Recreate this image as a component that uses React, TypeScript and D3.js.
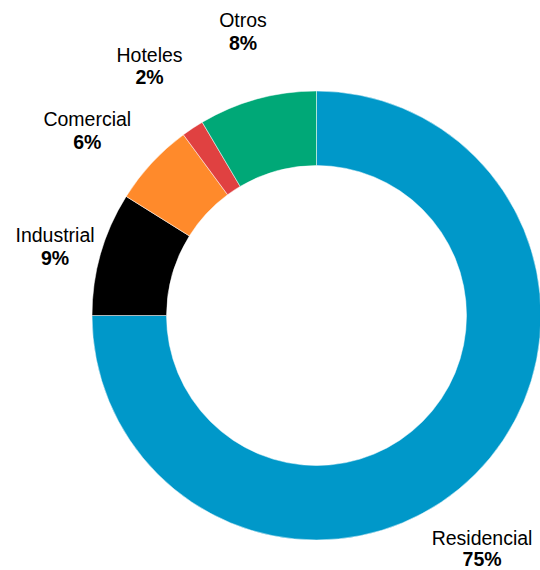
import React from "react";
import * as d3 from "d3";

const categories = ["Residencial", "Industrial", "Comercial", "Hoteles", "Otros"];
const values = [75.0, 8.9, 6.0, 1.6, 8.5];
const percentLabels = ["75%", "9%", "6%", "2%", "8%"];
const colors = ["#0098C9", "#000000", "#FF8A2B", "#E04141", "#00A877"];
// label nudges relative to centroid at label radius (layout only)
const labelNudge: [number, number][] = [
  [-39.5, 24.7],
  [17.3, 6.7],
  [-16.6, 8],
  [-7, -11.5],
  [3, -8.6],
];
const lineGap = [20.5, 23, 22.3, 21.7, 23.3];

const W = 540;
const H = 570;
const cx = 316.5;
const cy = 315.5;
const outerR = 224.5;
const innerR = 150;
const labelR = 290;

export default function App() {
  const pie = d3
    .pie<number>()
    .sort(null)
    .value((d) => d)
    .startAngle(0)
    .endAngle(2 * Math.PI);
  const arcs = pie(values);
  const arcGen = d3.arc<d3.PieArcDatum<number>>().innerRadius(innerR).outerRadius(outerR);
  const labelArc = d3.arc<d3.PieArcDatum<number>>().innerRadius(labelR).outerRadius(labelR);

  return (
    <svg
      width={W}
      height={H}
      style={{ position: "absolute", left: 0, top: 0, background: "#fff" }}
      fontFamily="'Liberation Sans', Arial, sans-serif"
    >
      <g transform={`translate(${cx},${cy})`}>
        {arcs.map((a, i) => (
          <path key={i} d={arcGen(a) || ""} fill={colors[i]} stroke="#fff" strokeWidth={0.5} />
        ))}
        {arcs.map((a, i) => {
          const [lx, ly] = labelArc.centroid(a);
          const x = lx + labelNudge[i][0];
          const y = ly + labelNudge[i][1];
          return (
            <g key={"l" + i}>
              <text x={x} y={y} textAnchor="middle" fontSize={19.5} fill="#000">
                {categories[i]}
              </text>
              <text x={x} y={y + lineGap[i]} textAnchor="middle" fontSize={19.5} fontWeight="bold" fill="#000">
                {percentLabels[i]}
              </text>
            </g>
          );
        })}
      </g>
    </svg>
  );
}
